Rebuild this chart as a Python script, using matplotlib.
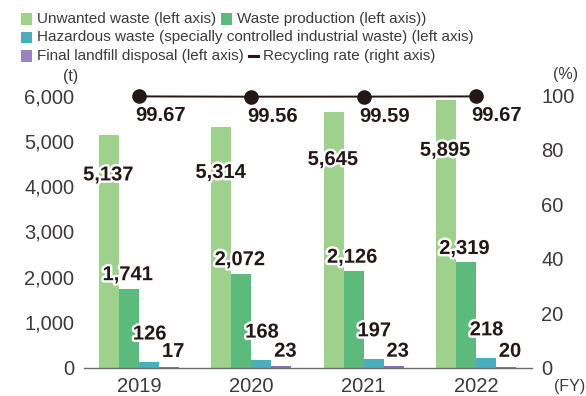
import matplotlib
matplotlib.use("Agg")
import matplotlib.pyplot as plt
import matplotlib.patheffects as pe
import numpy as np

# ---- data ----
years = ["2019", "2020", "2021", "2022"]
unwanted = [5137, 5314, 5645, 5895]
production = [1741, 2072, 2126, 2319]
hazardous = [126, 168, 197, 218]
landfill = [17, 23, 23, 20]
recycling = [99.67, 99.56, 99.59, 99.67]

left_ticks = [0, 1000, 2000, 3000, 4000, 5000, 6000]
right_ticks = [0, 20, 40, 60, 80, 100]

legend_rows = [
    [("sq", "#9dd18c", "Unwanted waste (left axis)"),
     ("sq", "#5dba7d", "Waste production (left axis))")],
    [("sq", "#4aaebf", "Hazardous waste (specially controlled industrial waste) (left axis)")],
    [("sq", "#9983c0", "Final landfill disposal (left axis)"),
     ("ln", "#231815", "Recycling rate (right axis)")],
]

# ---- style ----
FONT = "Liberation Sans"
TXT = "#3e3a39"
DARK = "#231815"
C_UNW, C_PRO, C_HAZ, C_LAN = "#9dd18c", "#5dba7d", "#4aaebf", "#8b70b8"

W, H, DPI = 586, 396, 100
fig = plt.figure(figsize=(W / DPI, H / DPI), dpi=DPI)
plt.rcParams["font.family"] = [FONT, "DejaVu Sans"]


def fx(x):
    return x / W


def fy(y):
    return 1 - y / H


ax_l, ax_r, ax_b, ax_t = 84, 532, 367.5, 95.5
ax = fig.add_axes([fx(ax_l), fy(ax_b), fx(ax_r - ax_l), fy(ax_t) - fy(ax_b)])
ax2 = ax.twinx()

x = np.arange(len(years))
bw = 0.178
offs = [-1.5 * bw, -0.5 * bw, 0.5 * bw, 1.5 * bw]

series = [(unwanted, C_UNW), (production, C_PRO), (hazardous, C_HAZ), (landfill, C_LAN)]
for (vals, col), o in zip(series, offs):
    ax.bar(x + o, vals, width=bw, color=col, linewidth=0, zorder=2)

ax.set_xlim(-0.49, 3.5)
ax.set_ylim(0, 6000)
ax2.set_ylim(0, 100)

for a in (ax, ax2):
    for s in ("top", "left", "right", "bottom"):
        a.spines[s].set_visible(False)
ax.spines["bottom"].set_visible(True)
ax.spines["bottom"].set_color("#6f6c6b")
ax.spines["bottom"].set_linewidth(1.0)

ax.set_yticks(left_ticks)
ax.set_yticklabels([f"{v:,}" for v in left_ticks])
ax.tick_params(axis="y", length=0, pad=7, labelsize=14.5, labelcolor=TXT)
ax.set_xticks(x)
ax.set_xticklabels(years)
ax.tick_params(axis="x", length=0, pad=6.5, labelsize=14.5, labelcolor=TXT)
ax2.set_yticks(right_ticks)
ax2.set_yticklabels([str(v) for v in right_ticks])
ax2.tick_params(axis="y", length=0, pad=6.5, labelsize=14.5, labelcolor=TXT)

# recycling rate line on right axis
ax2.plot(x, recycling, color=DARK, lw=1.4, marker="o", ms=9.5,
         mfc=DARK, mec=DARK, clip_on=False, zorder=5)

stroke = [pe.withStroke(linewidth=3.5, foreground="white")]
lab_kw = dict(fontsize=14.5, fontweight="bold", color=DARK,
              textcoords="offset points", zorder=6, annotation_clip=False)

# value labels: (values, bar offset, x shift pt, y shift pt per bar)
label_specs = [
    (unwanted, offs[0], -0.5, [-29, -33, -34.5, -36]),
    (production, offs[1], -1.0, [10] * 4),
    (hazardous, offs[2], 0.5, [20] * 4),
    (landfill, offs[3], 3.0, [11] * 4),
]
for vals, o, dx, dys in label_specs:
    for xi, v, dy in zip(x, vals, dys):
        ax.annotate(f"{v:,}", (xi + o, v), xytext=(dx, dy), ha="center",
                    va="center", path_effects=stroke, **lab_kw)

for xi, v in zip(x, recycling):
    ax2.annotate(f"{v:.2f}", (xi, v), xytext=(-3, -14), ha="left",
                 va="center", **lab_kw)

# unit labels
fig.text(fx(71), fy(76), "(t)", ha="center", va="center", fontsize=11.5, color=TXT)
fig.text(fx(566), fy(75), "(%)", ha="center", va="center", fontsize=11.5, color=TXT)
fig.text(fx(570), fy(386.5), "(FY)", ha="center", va="center", fontsize=11.5, color=TXT)

# legend
fig.canvas.draw()
renderer = fig.canvas.get_renderer()
row_y = [19, 37.5, 56]
sq = 11
for ry, items in zip(row_y, legend_rows):
    cx = 21
    for kind, col, label in items:
        if kind == "sq":
            fig.patches.append(plt.Rectangle((fx(cx), fy(ry + sq / 2)), fx(sq),
                                             fy(ry - sq / 2) - fy(ry + sq / 2),
                                             transform=fig.transFigure,
                                             facecolor=col, edgecolor="none"))
            cx += sq + 5
        else:
            fig.lines.append(plt.Line2D([fx(cx), fx(cx + 9)], [fy(ry), fy(ry)],
                                        transform=fig.transFigure, color=col, lw=2.2))
            cx += 9 + 5
        t = fig.text(fx(cx), fy(ry), label, ha="left", va="center",
                     fontsize=11, color=TXT)
        bb = t.get_window_extent(renderer)
        cx += bb.width + 5

fig.savefig("out.png", dpi=DPI)
